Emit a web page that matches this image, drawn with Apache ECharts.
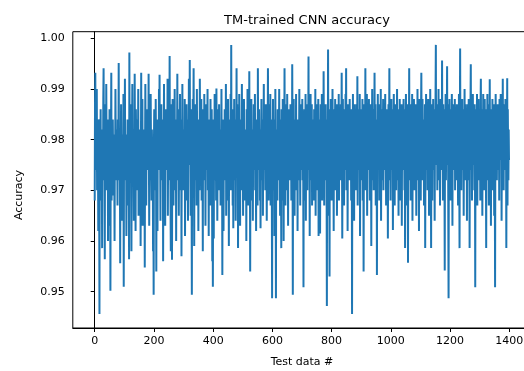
<!DOCTYPE html>
<html>
<head>
<meta charset="utf-8">
<script src="https://cdn.jsdelivr.net/npm/echarts@6/dist/echarts.min.js"></script>
<style>
  html, body { margin: 0; padding: 0; background: #fff; }
  #chart { width: 524px; height: 371px; }
</style>
</head>
<body>
<div id="chart"></div>
<script>
// Per-sample test accuracy of the TM-trained CNN, indexed by test data number (0..1399)
const accuracy = [
  0.968, 0.987, 0.9932, 0.976, 0.981, 0.974, 0.979, 0.990, 0.970, 0.975, 0.980, 0.977, 0.962, 0.984, 0.978, 0.972, 0.9456, 0.982, 0.979, 0.976,
  0.986, 0.968, 0.977, 0.980, 0.975, 0.9586, 0.982, 0.978, 0.974, 0.988, 0.9941, 0.977, 0.972, 0.979, 0.9564, 0.987, 0.976, 0.981, 0.970, 0.991,
  0.978, 0.974, 0.981, 0.976, 0.984, 0.960, 0.979, 0.975, 0.977, 0.963, 0.986, 0.978, 0.980, 0.9502, 0.976, 0.982, 0.9932, 0.968, 0.978, 0.980,
  0.969, 0.984, 0.977, 0.974, 0.979, 0.981, 0.975, 0.960, 0.978, 0.976, 0.990, 0.980, 0.972, 0.977, 0.982, 0.975, 0.979, 0.967, 0.984, 0.977,
  0.975, 0.9951, 0.978, 0.972, 0.980, 0.976, 0.9556, 0.982, 0.977, 0.987, 0.974, 0.979, 0.964, 0.981, 0.976, 0.978, 0.970, 0.989, 0.951, 0.979,
  0.982, 0.976, 0.992, 0.972, 0.978, 0.975, 0.981, 0.961, 0.979, 0.977, 0.974, 0.984, 0.967, 0.980, 0.976, 0.978, 0.9564, 0.9972, 0.974, 0.981,
  0.977, 0.987, 0.979, 0.975, 0.958, 0.978, 0.981, 0.991, 0.974, 0.977, 0.980, 0.976, 0.964, 0.982, 0.975, 0.993, 0.978, 0.972, 0.962, 0.986,
  0.979, 0.970, 0.984, 0.977, 0.975, 0.980, 0.976, 0.990, 0.965, 0.981, 0.978, 0.974, 0.982, 0.976, 0.979, 0.959, 0.977, 0.9932, 0.972, 0.980,
  0.978, 0.988, 0.963, 0.979, 0.975, 0.982, 0.977, 0.968, 0.980, 0.9548, 0.978, 0.991, 0.976, 0.981, 0.967, 0.986, 0.977, 0.974, 0.979, 0.976,
  0.981, 0.974, 0.9930, 0.977, 0.963, 0.980, 0.976, 0.978, 0.972, 0.989, 0.979, 0.975, 0.968, 0.982, 0.978, 0.976, 0.980, 0.958, 0.977, 0.9494,
  0.979, 0.986, 0.976, 0.980, 0.977, 0.970, 0.988, 0.978, 0.954, 0.981, 0.975, 0.979, 0.962, 0.984, 0.977, 0.980, 0.974, 0.990, 0.976, 0.9928,
  0.975, 0.979, 0.964, 0.982, 0.977, 0.987, 0.972, 0.980, 0.976, 0.978, 0.984, 0.956, 0.979, 0.975, 0.991, 0.974, 0.981, 0.977, 0.963, 0.986,
  0.978, 0.981, 0.974, 0.984, 0.977, 0.975, 0.992, 0.965, 0.980, 0.976, 0.982, 0.972, 0.978, 0.9965, 0.976, 0.981, 0.968, 0.958, 0.987, 0.977,
  0.975, 0.9563, 0.980, 0.988, 0.976, 0.979, 0.967, 0.982, 0.977, 0.974, 0.990, 0.970, 0.979, 0.976, 0.984, 0.960, 0.981, 0.975, 0.978, 0.993,
  0.972, 0.979, 0.976, 0.986, 0.965, 0.981, 0.977, 0.975, 0.989, 0.970, 0.978, 0.980, 0.984, 0.957, 0.979, 0.976, 0.991, 0.974, 0.978, 0.982,
  0.970, 0.978, 0.981, 0.975, 0.988, 0.961, 0.980, 0.977, 0.982, 0.968, 0.987, 0.978, 0.974, 0.984, 0.977, 0.964, 0.980, 0.976, 0.992, 0.979,
  0.975, 0.9957, 0.977, 0.981, 0.965, 0.986, 0.978, 0.974, 0.9494, 0.980, 0.976, 0.988, 0.970, 0.981, 0.9941, 0.977, 0.959, 0.982, 0.976, 0.979,
  0.987, 0.972, 0.978, 0.981, 0.967, 0.990, 0.977, 0.980, 0.975, 0.984, 0.962, 0.979, 0.977, 0.982, 0.970, 0.992, 0.978, 0.974, 0.981, 0.976,
  0.988, 0.968, 0.981, 0.977, 0.979, 0.958, 0.986, 0.976, 0.980, 0.972, 0.989, 0.978, 0.975, 0.982, 0.963, 0.980, 0.977, 0.987, 0.974, 0.979,
  0.976, 0.990, 0.970, 0.981, 0.978, 0.961, 0.984, 0.979, 0.975, 0.980, 0.967, 0.988, 0.977, 0.979, 0.974, 0.986, 0.976, 0.956, 0.982, 0.951,
  0.978, 0.984, 0.9605, 0.980, 0.976, 0.989, 0.972, 0.979, 0.975, 0.982, 0.968, 0.9901, 0.977, 0.981, 0.964, 0.979, 0.976, 0.986, 0.974, 0.978,
  0.987, 0.970, 0.980, 0.977, 0.982, 0.967, 0.979, 0.976, 0.990, 0.974, 0.978, 0.9533, 0.984, 0.977, 0.980, 0.962, 0.981, 0.978, 0.975, 0.986,
  0.972, 0.979, 0.977, 0.991, 0.965, 0.982, 0.978, 0.975, 0.981, 0.968, 0.988, 0.977, 0.979, 0.959, 0.984, 0.978, 0.974, 0.980, 0.976, 0.989,
  0.970, 0.9987, 0.977, 0.981, 0.975, 0.986, 0.967, 0.979, 0.9625, 0.982, 0.977, 0.988, 0.972, 0.979, 0.978, 0.984, 0.964, 0.980, 0.976, 0.9941,
  0.974, 0.987, 0.978, 0.980, 0.9586, 0.982, 0.977, 0.968, 0.989, 0.976, 0.979, 0.963, 0.984, 0.978, 0.974, 0.981, 0.977, 0.991, 0.970, 0.979,
  0.984, 0.965, 0.980, 0.977, 0.988, 0.975, 0.978, 0.982, 0.968, 0.980, 0.976, 0.979, 0.960, 0.986, 0.978, 0.974, 0.990, 0.976, 0.979, 0.967,
  0.981, 0.977, 0.9935, 0.972, 0.979, 0.954, 0.984, 0.978, 0.975, 0.988, 0.968, 0.980, 0.977, 0.982, 0.964, 0.979, 0.977, 0.987, 0.974, 0.980,
  0.976, 0.989, 0.970, 0.981, 0.978, 0.962, 0.984, 0.979, 0.975, 0.980, 0.967, 0.9941, 0.977, 0.980, 0.974, 0.986, 0.977, 0.982, 0.968, 0.978,
  0.9625, 0.981, 0.977, 0.988, 0.972, 0.979, 0.976, 0.984, 0.965, 0.980, 0.978, 0.991, 0.974, 0.980, 0.977, 0.982, 0.970, 0.978, 0.987, 0.975,
  0.979, 0.964, 0.982, 0.977, 0.980, 0.9941, 0.976, 0.968, 0.987, 0.978, 0.974, 0.981, 0.977, 0.989, 0.967, 0.980, 0.978, 0.984, 0.972, 0.9487,
  0.980, 0.976, 0.988, 0.970, 0.981, 0.978, 0.984, 0.961, 0.979, 0.977, 0.990, 0.974, 0.9487, 0.982, 0.978, 0.975, 0.980, 0.968, 0.986, 0.977,
  0.981, 0.972, 0.979, 0.990, 0.976, 0.980, 0.965, 0.984, 0.978, 0.974, 0.9586, 0.986, 0.977, 0.980, 0.968, 0.988, 0.977, 0.979, 0.960, 0.982,
  0.978, 0.9941, 0.975, 0.981, 0.967, 0.987, 0.979, 0.976, 0.982, 0.970, 0.989, 0.978, 0.980, 0.963, 0.982, 0.977, 0.986, 0.974, 0.979, 0.978,
  0.972, 0.987, 0.977, 0.981, 0.968, 0.980, 0.976, 0.9949, 0.979, 0.9494, 0.984, 0.978, 0.988, 0.974, 0.980, 0.965, 0.984, 0.977, 0.979, 0.975,
  0.989, 0.970, 0.981, 0.977, 0.984, 0.962, 0.980, 0.977, 0.982, 0.972, 0.979, 0.990, 0.975, 0.980, 0.967, 0.987, 0.978, 0.974, 0.981, 0.976,
  0.979, 0.988, 0.972, 0.982, 0.977, 0.9509, 0.981, 0.977, 0.986, 0.968, 0.980, 0.978, 0.989, 0.964, 0.982, 0.975, 0.979, 0.987, 0.970, 0.982,
  0.977, 0.981, 0.9964, 0.974, 0.979, 0.984, 0.961, 0.982, 0.977, 0.989, 0.972, 0.980, 0.976, 0.987, 0.967, 0.979, 0.984, 0.975, 0.981, 0.978,
  0.968, 0.986, 0.977, 0.980, 0.974, 0.990, 0.965, 0.982, 0.977, 0.979, 0.987, 0.970, 0.984, 0.978, 0.975, 0.988, 0.961, 0.981, 0.976, 0.979,
  0.984, 0.9615, 0.979, 0.987, 0.974, 0.981, 0.977, 0.989, 0.968, 0.982, 0.977, 0.980, 0.975, 0.9935, 0.978, 0.967, 0.986, 0.976, 0.980, 0.972,
  0.987, 0.977, 0.981, 0.975, 0.9472, 0.984, 0.978, 0.970, 0.9978, 0.977, 0.982, 0.965, 0.980, 0.953, 0.986, 0.978, 0.974, 0.988, 0.977, 0.981,
  0.968, 0.984, 0.977, 0.990, 0.974, 0.980, 0.978, 0.962, 0.986, 0.976, 0.981, 0.979, 0.988, 0.970, 0.982, 0.977, 0.975, 0.987, 0.965, 0.980,
  0.986, 0.974, 0.980, 0.977, 0.989, 0.968, 0.982, 0.977, 0.979, 0.984, 0.972, 0.987, 0.976, 0.980, 0.9932, 0.978, 0.9605, 0.981, 0.988, 0.975,
  0.979, 0.982, 0.967, 0.986, 0.977, 0.980, 0.974, 0.989, 0.978, 0.9941, 0.970, 0.981, 0.978, 0.984, 0.962, 0.980, 0.987, 0.975, 0.982, 0.977,
  0.972, 0.988, 0.978, 0.981, 0.976, 0.986, 0.968, 0.980, 0.984, 0.9456, 0.980, 0.977, 0.989, 0.974, 0.979, 0.982, 0.964, 0.987, 0.977, 0.980,
  0.975, 0.984, 0.978, 0.970, 0.987, 0.979, 0.976, 0.9925, 0.967, 0.981, 0.977, 0.986, 0.974, 0.980, 0.977, 0.989, 0.961, 0.982, 0.979, 0.972,
  0.986, 0.977, 0.981, 0.975, 0.988, 0.968, 0.980, 0.982, 0.954, 0.978, 0.987, 0.974, 0.980, 0.977, 0.9941, 0.970, 0.984, 0.979, 0.976, 0.989,
  0.965, 0.981, 0.977, 0.986, 0.974, 0.980, 0.988, 0.976, 0.982, 0.968, 0.979, 0.987, 0.977, 0.981, 0.959, 0.984, 0.978, 0.990, 0.972, 0.981,
  0.977, 0.986, 0.970, 0.980, 0.982, 0.9932, 0.975, 0.979, 0.987, 0.967, 0.981, 0.977, 0.984, 0.9533, 0.980, 0.976, 0.989, 0.974, 0.980, 0.978,
  0.984, 0.968, 0.987, 0.977, 0.980, 0.975, 0.990, 0.964, 0.982, 0.978, 0.972, 0.986, 0.977, 0.980, 0.988, 0.970, 0.981, 0.976, 0.979, 0.984,
  0.974, 0.989, 0.977, 0.981, 0.967, 0.986, 0.979, 0.975, 0.982, 0.977, 0.9605, 0.980, 0.987, 0.976, 0.980, 0.9941, 0.972, 0.984, 0.978, 0.968,
  0.982, 0.977, 0.988, 0.974, 0.980, 0.978, 0.986, 0.9622, 0.980, 0.975, 0.989, 0.977, 0.981, 0.967, 0.987, 0.976, 0.979, 0.984, 0.970, 0.982,
  0.977, 0.990, 0.972, 0.980, 0.977, 0.986, 0.965, 0.982, 0.979, 0.975, 0.988, 0.978, 0.968, 0.984, 0.980, 0.976, 0.987, 0.963, 0.981, 0.977,
  0.984, 0.974, 0.980, 0.988, 0.977, 0.980, 0.970, 0.986, 0.9586, 0.982, 0.977, 0.989, 0.975, 0.979, 0.981, 0.967, 0.987, 0.978, 0.9557, 0.984,
  0.976, 0.980, 0.9941, 0.972, 0.982, 0.977, 0.987, 0.968, 0.980, 0.986, 0.975, 0.979, 0.989, 0.964, 0.981, 0.977, 0.984, 0.974, 0.988, 0.978,
  0.970, 0.982, 0.977, 0.987, 0.975, 0.980, 0.965, 0.986, 0.979, 0.977, 0.990, 0.972, 0.981, 0.978, 0.984, 0.962, 0.980, 0.988, 0.976, 0.982,
  0.977, 0.968, 0.986, 0.9932, 0.979, 0.975, 0.981, 0.988, 0.972, 0.980, 0.977, 0.984, 0.967, 0.982, 0.978, 0.987, 0.9586, 0.980, 0.976, 0.989,
  0.974, 0.981, 0.977, 0.986, 0.970, 0.980, 0.988, 0.977, 0.982, 0.965, 0.984, 0.979, 0.975, 0.990, 0.978, 0.980, 0.9586, 0.987, 0.976, 0.981,
  0.968, 0.984, 0.978, 0.988, 0.974, 0.980, 0.977, 0.986, 0.964, 0.982, 0.979, 0.989, 0.9987, 0.975, 0.981, 0.977, 0.987, 0.970, 0.980, 0.984,
  0.977, 0.990, 0.972, 0.982, 0.978, 0.986, 0.967, 0.980, 0.988, 0.976, 0.980, 0.984, 0.974, 0.9956, 0.977, 0.981, 0.968, 0.987, 0.979, 0.975,
  0.982, 0.977, 0.9542, 0.986, 0.979, 0.989, 0.972, 0.980, 0.977, 0.984, 0.9945, 0.975, 0.980, 0.987, 0.965, 0.9487, 0.981, 0.978, 0.988, 0.976,
  0.980, 0.968, 0.986, 0.977, 0.982, 0.975, 0.989, 0.979, 0.963, 0.984, 0.977, 0.981, 0.987, 0.974, 0.980, 0.978, 0.988, 0.970, 0.982, 0.977,
  0.986, 0.972, 0.980, 0.987, 0.976, 0.979, 0.984, 0.967, 0.981, 0.977, 0.989, 0.975, 0.9586, 0.982, 0.998, 0.977, 0.980, 0.986, 0.970, 0.981,
  0.978, 0.988, 0.974, 0.980, 0.977, 0.986, 0.965, 0.982, 0.979, 0.990, 0.975, 0.980, 0.987, 0.972, 0.981, 0.977, 0.984, 0.964, 0.980, 0.987,
  0.976, 0.982, 0.979, 0.988, 0.972, 0.980, 0.9586, 0.984, 0.977, 0.987, 0.9949, 0.974, 0.980, 0.986, 0.968, 0.981, 0.978, 0.989, 0.975, 0.980,
  0.977, 0.984, 0.970, 0.987, 0.979, 0.9509, 0.982, 0.977, 0.986, 0.974, 0.980, 0.989, 0.967, 0.981, 0.978, 0.976, 0.988, 0.972, 0.980, 0.984,
  0.977, 0.981, 0.968, 0.987, 0.992, 0.975, 0.980, 0.978, 0.986, 0.965, 0.982, 0.977, 0.989, 0.974, 0.980, 0.984, 0.970, 0.988, 0.979, 0.976,
  0.982, 0.977, 0.9586, 0.986, 0.980, 0.975, 0.989, 0.972, 0.981, 0.978, 0.987, 0.967, 0.984, 0.977, 0.9919, 0.974, 0.980, 0.979, 0.963, 0.986,
  0.978, 0.982, 0.970, 0.988, 0.977, 0.980, 0.975, 0.987, 0.979, 0.965, 0.984, 0.977, 0.9509, 0.981, 0.989, 0.976, 0.980, 0.986, 0.972, 0.982,
  0.977, 0.987, 0.974, 0.980, 0.979, 0.984, 0.968, 0.988, 0.977, 0.981, 0.976, 0.989, 0.978, 0.986, 0.964, 0.982, 0.980, 0.975, 0.992, 0.978,
  0.981, 0.970, 0.987, 0.977, 0.984, 0.979, 0.974, 0.988, 0.977, 0.980, 0.9586, 0.982, 0.976, 0.9921, 0.967, 0.986, 0.978, 0.972, 0.982, 0.976
];

// Tick positions shown on each axis
const xTicks = [0, 200, 400, 600, 800, 1000, 1200, 1400];
const yTicks = [0.95, 0.96, 0.97, 0.98, 0.99, 1.00];

const titleText = 'TM-trained CNN accuracy';
const xLabel = 'Test data #';
const yLabel = 'Accuracy';

const FONT = '"DejaVu Sans", sans-serif';
const INK = '#000';

const chart = echarts.init(document.getElementById('chart'), null, { renderer: 'canvas' });

const axisCommon = {
  type: 'value',
  axisLine: { show: true, lineStyle: { color: INK, width: 1 } },
  axisTick: { show: true, inside: false, length: 4, lineStyle: { color: INK, width: 1 } },
  splitLine: { show: false },
  axisLabel: { color: INK, fontFamily: FONT, fontSize: 11 }
};

chart.setOption({
  animation: false,
  backgroundColor: '#fff',
  title: {
    text: titleText,
    left: 302,
    top: 9,
    textAlign: 'center',
    textStyle: { fontFamily: FONT, fontSize: 13, fontWeight: 'normal', color: INK }
  },
  grid: {
    left: 72.8,
    top: 31.7,
    width: 458.4,
    height: 296.3,
    show: true,
    borderColor: INK,
    borderWidth: 1,
    backgroundColor: 'transparent',
    containLabel: false,
    outerBoundsMode: 'none'
  },
  xAxis: Object.assign({}, axisCommon, {
    min: -74,
    max: 1474,
    name: xLabel,
    nameLocation: 'middle',
    nameGap: 29,
    nameTextStyle: { fontFamily: FONT, fontSize: 11, color: INK },
    axisTick: Object.assign({}, axisCommon.axisTick, { customValues: xTicks }),
    axisLabel: Object.assign({}, axisCommon.axisLabel, {
      customValues: xTicks,
      margin: 8,
      formatter: v => String(Math.round(v))
    })
  }),
  yAxis: Object.assign({}, axisCommon, {
    min: 0.94284,
    max: 1.0013,
    axisTick: Object.assign({}, axisCommon.axisTick, { customValues: yTicks }),
    axisLabel: Object.assign({}, axisCommon.axisLabel, {
      customValues: yTicks,
      margin: 8,
      formatter: v => v.toFixed(2)
    })
  }),
  graphic: [{
    type: 'text',
    x: 19,
    y: 195,
    rotation: Math.PI / 2,
    style: {
      text: yLabel,
      fontFamily: FONT,
      fontSize: 11,
      fill: INK,
      align: 'center',
      verticalAlign: 'middle'
    }
  }],
  series: [{
    type: 'line',
    data: accuracy.map((v, i) => [i, v]),
    showSymbol: false,
    symbol: 'none',
    sampling: null,
    clip: true,
    lineStyle: { color: '#1f77b4', width: 2 },
    emphasis: { disabled: true }
  }]
});
</script>
</body>
</html>
